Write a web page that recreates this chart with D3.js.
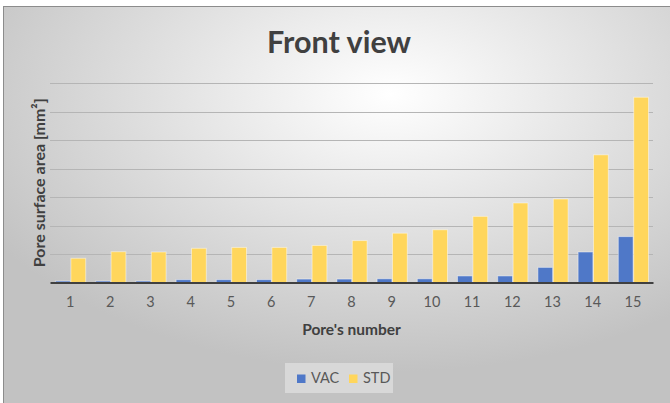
<!DOCTYPE html>
<html>
<head>
<meta charset="utf-8">
<script src="https://cdn.jsdelivr.net/npm/d3@7"></script>
<style>
  html, body { margin: 0; padding: 0; background: #fff; }
  svg { display: block; font-family: Lato, "Open Sans", sans-serif; }
</style>
</head>
<body>
<div id="chart"></div>
<script>
var categories = ['1', '2', '3', '4', '5', '6', '7', '8', '9', '10', '11', '12', '13', '14', '15'];
var seriesNames = ['VAC', 'STD'];
var vac = [0.05, 0.05, 0.05, 0.10, 0.10, 0.10, 0.12, 0.12, 0.13, 0.13, 0.23, 0.23, 0.53, 1.07, 1.61];
var std = [0.85, 1.08, 1.07, 1.20, 1.23, 1.23, 1.30, 1.47, 1.73, 1.85, 2.32, 2.79, 2.93, 4.48, 6.50];
var yTicks = [1, 2, 3, 4, 5, 6, 7];

var colours = {VAC: '#4f78c8', STD: '#ffd65c'};

var width = 670, height = 403;
var margin = {top: 83, right: 17, bottom: 120.5, left: 50};

var svg = d3.select('#chart')
  .append('svg')
  .attr('width', width)
  .attr('height', height);

// background with radial gradient, like the Excel chart area
var grad = svg.append('defs').append('radialGradient')
  .attr('id', 'bg')
  .attr('cx', '58%').attr('cy', '22%').attr('r', '70%');
grad.append('stop').attr('offset', '0%').attr('stop-color', '#ffffff');
grad.append('stop').attr('offset', '100%').attr('stop-color', '#c2c2c2');

svg.append('rect')
  .attr('x', 3.5).attr('y', 6.5)
  .attr('width', width - 3).attr('height', height - 6)
  .attr('fill', 'url(#bg)')
  .attr('stroke', '#8c8c8c');

var x0 = d3.scaleBand()
  .domain(categories)
  .range([margin.left, width - margin.right])
  .padding(0);

var x1 = d3.scaleBand()
  .domain(seriesNames)
  .range([5.5, x0.bandwidth() - 4.5])
  .paddingInner(0.04);

var y = d3.scaleLinear()
  .domain([0, 7])
  .range([height - margin.bottom, margin.top]);

// gridlines
svg.append('g')
  .selectAll('line')
  .data(yTicks)
  .enter()
  .append('line')
  .attr('x1', margin.left)
  .attr('x2', width - margin.right)
  .attr('y1', function(d) { return Math.round(y(d)) + 0.5; })
  .attr('y2', function(d) { return Math.round(y(d)) + 0.5; })
  .attr('stroke', '#b5b5b5')
  .attr('stroke-width', 1.2);

// bars
var groups = svg.append('g')
  .selectAll('g')
  .data(categories)
  .enter()
  .append('g')
  .attr('transform', function(d) { return 'translate(' + x0(d) + ',0)'; });

groups.selectAll('rect')
  .data(function(d, i) {
    return [{key: 'VAC', value: vac[i]}, {key: 'STD', value: std[i]}];
  })
  .enter()
  .append('rect')
  .attr('x', function(d) { return x1(d.key); })
  .attr('y', function(d) { return y(d.value); })
  .attr('width', x1.bandwidth())
  .attr('height', function(d) { return y(0) - y(d.value); })
  .attr('fill', function(d) { return colours[d.key]; })
  .attr('stroke', 'rgba(255,255,255,0.45)')
  .attr('stroke-width', 1);

// x axis
var xAxis = svg.append('g')
  .attr('transform', 'translate(0,' + y(0) + ')')
  .call(d3.axisBottom(x0).tickSize(0).tickPadding(14));
xAxis.select('.domain')
  .attr('stroke', '#404040')
  .attr('stroke-width', 2.2);
xAxis.selectAll('text')
  .attr('fill', '#595959')
  .style('font-size', '14.5px')
  .style('font-family', 'Lato, sans-serif');

// titles
svg.append('text')
  .attr('x', 339)
  .attr('y', 53)
  .attr('text-anchor', 'middle')
  .attr('fill', '#404040')
  .style('font-size', '30.5px')
  .style('font-weight', 'bold')
  .text('Front view');

svg.append('text')
  .attr('x', (margin.left + width - margin.right) / 2)
  .attr('y', 335)
  .attr('text-anchor', 'middle')
  .attr('fill', '#404040')
  .style('font-size', '15.5px')
  .style('font-weight', 'bold')
  .text("Pore's number");

svg.append('text')
  .attr('transform', 'translate(44.5,' + (y(0) + y(7)) / 2 + ') rotate(-90)')
  .attr('text-anchor', 'middle')
  .attr('fill', '#404040')
  .style('font-size', '16px')
  .style('font-weight', 'bold')
  .text('Pore surface area [mm²]');

// legend
var legend = svg.append('g');
legend.append('rect')
  .attr('x', 285).attr('y', 363)
  .attr('width', 108).attr('height', 30)
  .attr('fill', 'rgba(230,230,230,0.6)');

var legendX = {VAC: 297, STD: 349};
seriesNames.forEach(function(name) {
  legend.append('rect')
    .attr('x', legendX[name]).attr('y', 374.5)
    .attr('width', 8.5).attr('height', 8.5)
    .attr('fill', colours[name]);
  legend.append('text')
    .attr('x', legendX[name] + 14)
    .attr('y', 383)
    .attr('fill', '#595959')
    .style('font-size', '14.5px')
    .text(name);
});
</script>
</body>
</html>
